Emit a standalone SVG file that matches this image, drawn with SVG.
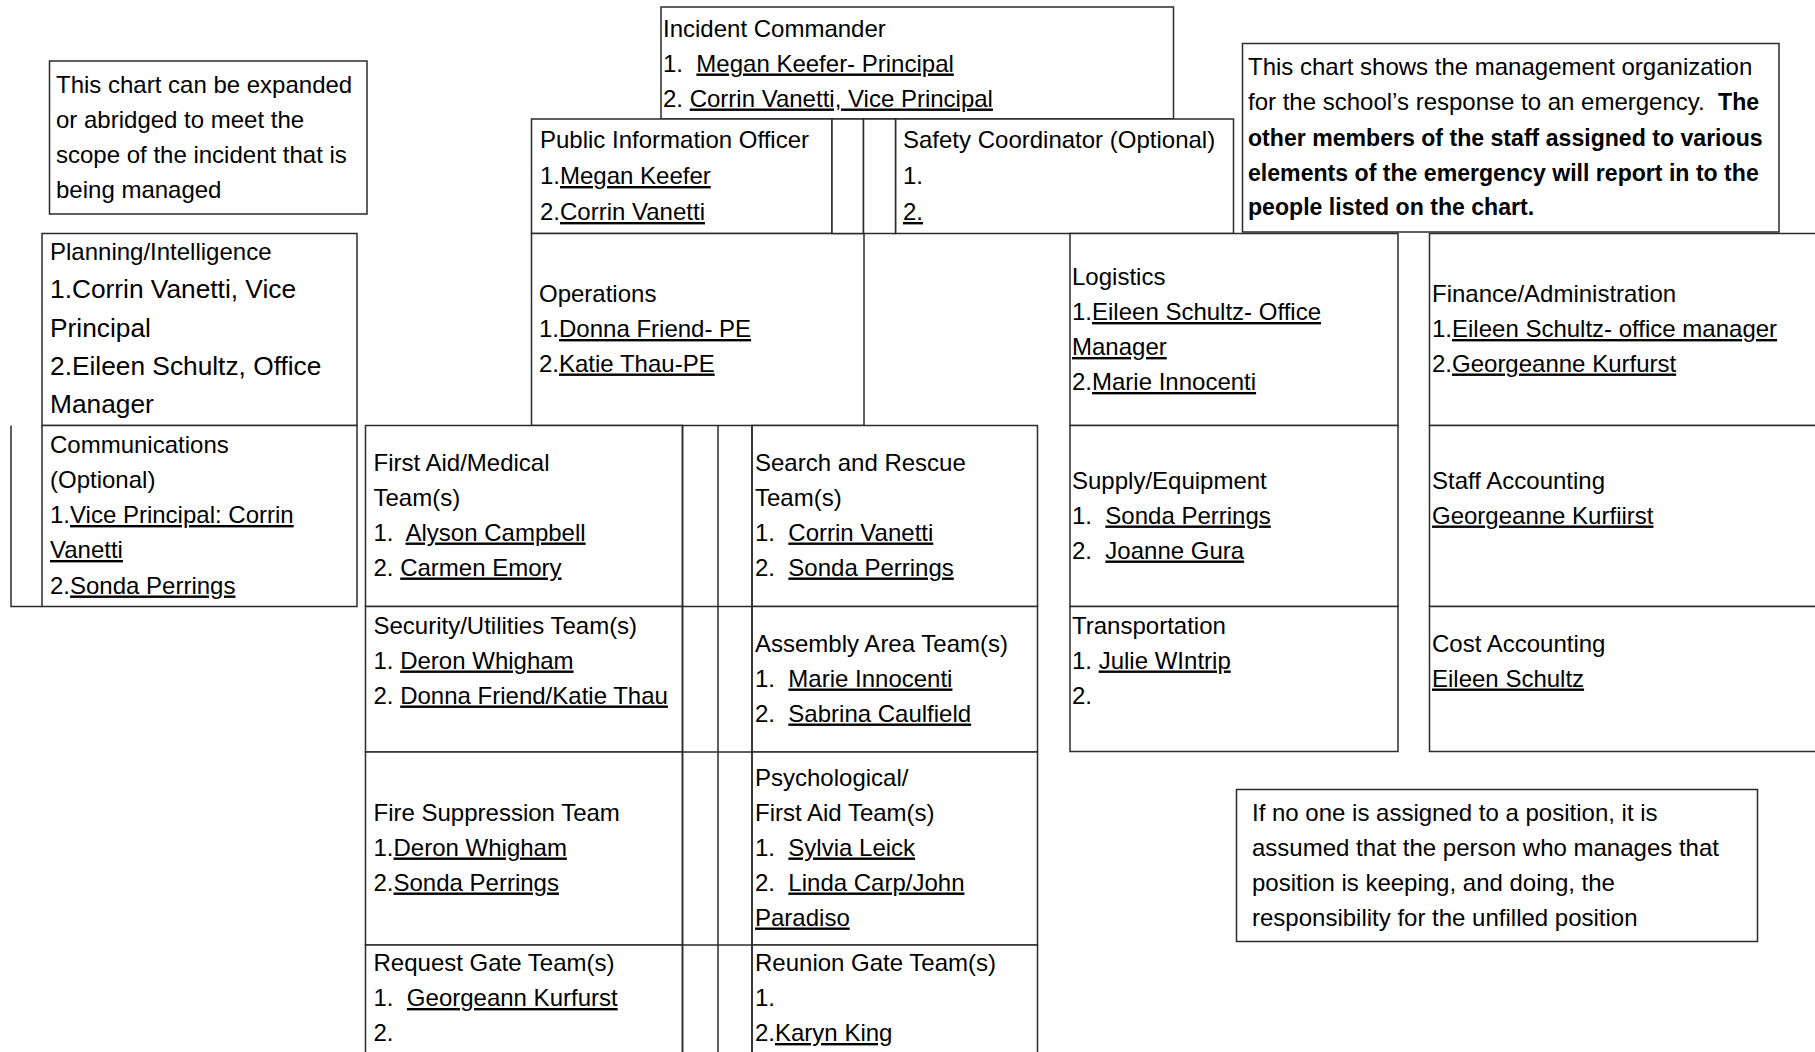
<svg xmlns="http://www.w3.org/2000/svg" width="1815" height="1052" viewBox="0 0 1815 1052">
<style>
.b { fill: #ffffff; stroke: #2b2b2b; stroke-width: 1.5; }
.ln { fill: none; stroke: #2b2b2b; stroke-width: 1.5; }
text { font-family: "Liberation Sans", Arial, sans-serif; font-size: 24px; fill: #000000; white-space: pre; }
.u { text-decoration: underline; }
.big { font-size: 26.3px; }
.bd { font-weight: bold; font-size: 23.1px; }
</style>
<rect x="0" y="0" width="1815" height="1052" fill="#ffffff"/>

<g id="note-left">
<rect class="b" x="49.5" y="61" width="317.5" height="153"/>
<text x="56" y="92.5">This chart can be expanded</text>
<text x="56" y="127.5">or abridged to meet the</text>
<text x="56" y="162.5">scope of the incident that is</text>
<text x="56" y="197.5">being managed</text>
</g>

<g id="incident-commander">
<rect class="b" x="661" y="7" width="512.5" height="112"/>
<text x="663" y="36.5">Incident Commander</text>
<text x="663" y="71.5">1.  <tspan class="u">Megan Keefer- Principal</tspan></text>
<text x="663" y="106.5">2. <tspan class="u">Corrin Vanetti, Vice Principal</tspan></text>
</g>

<g id="public-information-officer">
<rect class="b" x="531.5" y="119" width="300.5" height="114.5"/>
<text x="540" y="148">Public Information Officer</text>
<text x="540" y="184">1.<tspan class="u">Megan Keefer</tspan></text>
<text x="540" y="220">2.<tspan class="u">Corrin Vanetti</tspan></text>
</g>

<g id="safety-coordinator">
<rect class="b" x="895.5" y="119" width="338" height="114.5"/>
<text x="903" y="148">Safety Coordinator (Optional)</text>
<text x="903" y="184">1.</text>
<text x="903" y="220"><tspan class="u">2.</tspan></text>
</g>

<g id="note-right">
<rect class="b" x="1242.5" y="43.5" width="536.5" height="188.5"/>
<text x="1248" y="75">This chart shows the management organization</text>
<text x="1248" y="110">for the school’s response to an emergency.  <tspan class="bd">The</tspan></text>
<text x="1248" y="145.5" class="bd">other members of the staff assigned to various</text>
<text x="1248" y="180.5" class="bd">elements of the emergency will report in to the</text>
<text x="1248" y="214.5" class="bd">people listed on the chart.</text>
</g>

<g id="planning-intelligence">
<rect class="b" x="42" y="233.5" width="315" height="192"/>
<text x="50" y="260">Planning/Intelligence</text>
<text x="50" y="298" class="big">1.Corrin Vanetti, Vice</text>
<text x="50" y="336.5" class="big">Principal</text>
<text x="50" y="375" class="big">2.Eileen Schultz, Office</text>
<text x="50" y="413" class="big">Manager</text>
</g>

<g id="communications">
<rect class="b" x="42" y="425.5" width="315" height="181"/>
<text x="50" y="453">Communications</text>
<text x="50" y="488">(Optional)</text>
<text x="50" y="523">1.<tspan class="u">Vice Principal: Corrin</tspan></text>
<text x="50" y="558"><tspan class="u">Vanetti</tspan></text>
<text x="50" y="593.5">2.<tspan class="u">Sonda Perrings</tspan></text>
</g>

<g id="operations">
<rect class="b" x="531.5" y="233.5" width="332.5" height="192"/>
<text x="539" y="302">Operations</text>
<text x="539" y="337">1.<tspan class="u">Donna Friend- PE</tspan></text>
<text x="539" y="371.5">2.<tspan class="u">Katie Thau-PE</tspan></text>
</g>

<g id="logistics">
<rect class="b" x="1070" y="233.5" width="328" height="192"/>
<text x="1072" y="285">Logistics</text>
<text x="1072" y="320">1.<tspan class="u">Eileen Schultz- Office</tspan></text>
<text x="1072" y="355"><tspan class="u">Manager</tspan></text>
<text x="1072" y="390">2.<tspan class="u">Marie Innocenti</tspan></text>
</g>

<g id="finance-administration">
<rect class="b" x="1429.5" y="233.5" width="400" height="192"/>
<text x="1432" y="302">Finance/Administration</text>
<text x="1432" y="337">1.<tspan class="u">Eileen Schultz- office manager</tspan></text>
<text x="1432" y="371.5">2.<tspan class="u">Georgeanne Kurfurst</tspan></text>
</g>

<g id="supply-equipment">
<rect class="b" x="1070" y="425.5" width="328" height="181"/>
<text x="1072" y="488.5">Supply/Equipment</text>
<text x="1072" y="523.5">1.  <tspan class="u">Sonda Perrings</tspan></text>
<text x="1072" y="558.5">2.  <tspan class="u">Joanne Gura</tspan></text>
</g>

<g id="staff-accounting">
<rect class="b" x="1429.5" y="425.5" width="400" height="181"/>
<text x="1432" y="488.5">Staff Accounting</text>
<text x="1432" y="523.5"><tspan class="u">Georgeanne Kurfiirst</tspan></text>
</g>

<g id="transportation">
<rect class="b" x="1070" y="606.5" width="328" height="145"/>
<text x="1072" y="633.5">Transportation</text>
<text x="1072" y="668.5">1. <tspan class="u">Julie WIntrip</tspan></text>
<text x="1072" y="703.5">2.</text>
</g>

<g id="cost-accounting">
<rect class="b" x="1429.5" y="606.5" width="400" height="145"/>
<text x="1432" y="651.5">Cost Accounting</text>
<text x="1432" y="686.5"><tspan class="u">Eileen Schultz</tspan></text>
</g>

<g id="first-aid-medical">
<rect class="b" x="365.5" y="425.5" width="317" height="181"/>
<text x="373.5" y="470.5">First Aid/Medical</text>
<text x="373.5" y="505.5">Team(s)</text>
<text x="373.5" y="540.5">1.  <tspan class="u">Alyson Campbell</tspan></text>
<text x="373.5" y="575.5">2. <tspan class="u">Carmen Emory</tspan></text>
</g>

<g id="search-rescue">
<rect class="b" x="752" y="425.5" width="285.5" height="181"/>
<text x="755" y="470.5">Search and Rescue</text>
<text x="755" y="505.5">Team(s)</text>
<text x="755" y="540.5">1.  <tspan class="u">Corrin Vanetti</tspan></text>
<text x="755" y="575.5">2.  <tspan class="u">Sonda Perrings</tspan></text>
</g>

<g id="security-utilities">
<rect class="b" x="365.5" y="606.5" width="317" height="145.5"/>
<text x="373.5" y="633.5">Security/Utilities Team(s)</text>
<text x="373.5" y="668.5">1. <tspan class="u">Deron Whigham</tspan></text>
<text x="373.5" y="703.5">2. <tspan class="u">Donna Friend/Katie Thau</tspan></text>
</g>

<g id="assembly-area">
<rect class="b" x="752" y="606.5" width="285.5" height="145.5"/>
<text x="755" y="651.5">Assembly Area Team(s)</text>
<text x="755" y="686.5">1.  <tspan class="u">Marie Innocenti</tspan></text>
<text x="755" y="721.5">2.  <tspan class="u">Sabrina Caulfield</tspan></text>
</g>

<g id="fire-suppression">
<rect class="b" x="365.5" y="752" width="317" height="193"/>
<text x="373.5" y="820.5">Fire Suppression Team</text>
<text x="373.5" y="855.5">1.<tspan class="u">Deron Whigham</tspan></text>
<text x="373.5" y="890.5">2.<tspan class="u">Sonda Perrings</tspan></text>
</g>

<g id="psychological-first-aid">
<rect class="b" x="752" y="752" width="285.5" height="193"/>
<text x="755" y="785.5">Psychological/</text>
<text x="755" y="820.5">First Aid Team(s)</text>
<text x="755" y="855.5">1.  <tspan class="u">Sylvia Leick</tspan></text>
<text x="755" y="890.5">2.  <tspan class="u">Linda Carp/John</tspan></text>
<text x="755" y="925.5"><tspan class="u">Paradiso</tspan></text>
</g>

<g id="request-gate">
<rect class="b" x="365.5" y="945" width="317" height="120"/>
<text x="373.5" y="971">Request Gate Team(s)</text>
<text x="373.5" y="1006">1.  <tspan class="u">Georgeann Kurfurst</tspan></text>
<text x="373.5" y="1041">2.</text>
</g>

<g id="reunion-gate">
<rect class="b" x="752" y="945" width="285.5" height="120"/>
<text x="755" y="971">Reunion Gate Team(s)</text>
<text x="755" y="1006">1.</text>
<text x="755" y="1041">2.<tspan class="u">Karyn King</tspan></text>
</g>

<g id="note-bottom">
<rect class="b" x="1236.5" y="789.5" width="521" height="152"/>
<text x="1252" y="821">If no one is assigned to a position, it is</text>
<text x="1252" y="856">assumed that the person who manages that</text>
<text x="1252" y="891">position is keeping, and doing, the</text>
<text x="1252" y="926">responsibility for the unfilled position</text>
</g>

<g id="connectors">
<rect class="b" x="832" y="119" width="31.5" height="114.5"/>
<rect class="b" x="863.5" y="119" width="32" height="114.5"/>
<line class="ln" x1="682.5" y1="425.5" x2="682.5" y2="1060"/>
<line class="ln" x1="718" y1="425.5" x2="718" y2="1060"/>
<line class="ln" x1="752" y1="425.5" x2="752" y2="1060"/>
<line class="ln" x1="682.5" y1="606.5" x2="752" y2="606.5"/>
<line class="ln" x1="682.5" y1="752" x2="752" y2="752"/>
<line class="ln" x1="682.5" y1="945" x2="752" y2="945"/>
<polyline class="ln" points="11,425.5 11,606.5 42,606.5"/>
</g>
</svg>
